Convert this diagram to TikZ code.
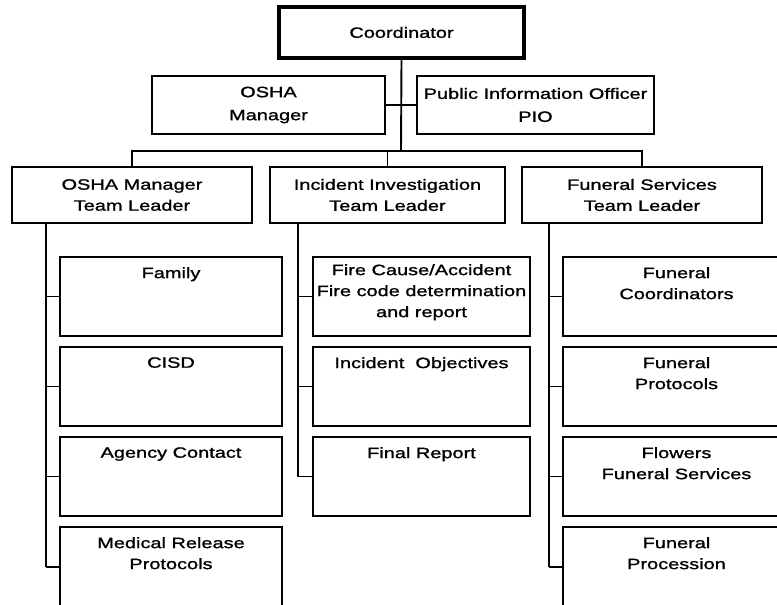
\documentclass[tikz,border=0pt]{standalone}
\usepackage{fontspec}
\setmainfont{Liberation Sans}[FakeStretch=1.33,FakeBold=1.2]
\begin{document}
\begin{tikzpicture}[x=1pt,y=-1pt,
  font=\fontsize{15}{21}\selectfont,
  box/.style={draw, line width=1.9pt, inner sep=0pt, align=center},
  lbl/.style={anchor=north, inner sep=0pt, align=center},
  con/.style={line width=1.9pt}]
\useasboundingbox (0,0) rectangle (777,605);
% top
\node[box, line width=4.5pt, minimum width=245, minimum height=51] (coord) at (401.5,32.5) {Coordinator};
\node[box, minimum width=233, minimum height=58] (oshaM) at (268.5,105) {OSHA\\[2pt]Manager};
\node[box, minimum width=237, minimum height=58] (pio) at (535.5,105) {Public Information Officer\\[2pt]PIO};
\coordinate (bar) at (401,151);
\draw[con] (coord.south) -- (bar);
\draw[con] (oshaM.east) -- (pio.west);
% team leaders
\node[box, minimum width=240, minimum height=56] (tl1) at (132,195) {OSHA Manager\\Team Leader};
\node[box, minimum width=235, minimum height=56] (tl2) at (387.5,195) {Incident Investigation\\Team Leader};
\node[box, minimum width=240, minimum height=56] (tl3) at (642,195) {Funeral Services\\Team Leader};
\draw[con] (tl1.north) |- (bar) -| (tl3.north);
\draw[con] (bar -| tl2.north) -- (tl2.north);
% column spines
\coordinate (c1) at (46,0);
\coordinate (c2) at (298,0);
\coordinate (c3) at (549,0);
% column 1
\node[box, minimum width=222, minimum height=79] (a1) at (171,296.5) {};
\node[box, minimum width=222, minimum height=79] (a2) at (171,386.5) {};
\node[box, minimum width=222, minimum height=79] (a3) at (171,476.5) {};
\node[box, minimum width=222, minimum height=80] (a4) at (171,567) {};
\node[lbl] at ([yshift=-11pt]a1.north) {Family};
\node[lbl] at ([yshift=-11pt]a2.north) {CISD};
\node[lbl] at ([yshift=-11pt]a3.north) {Agency Contact};
\node[lbl] at ([yshift=-11pt]a4.north) {Medical Release\\Protocols};
\draw[con] (tl1.south -| c1) -- (a4.west -| c1);
\foreach \n in {a1,a2,a3,a4} \draw[con] (\n.west -| c1) -- (\n.west);
% column 2
\node[box, minimum width=217, minimum height=79] (b1) at (421.5,296.5) {};
\node[box, minimum width=217, minimum height=79] (b2) at (421.5,386.5) {};
\node[box, minimum width=217, minimum height=79] (b3) at (421.5,476.5) {};
\node[lbl] at ([yshift=-8pt]b1.north) {Fire Cause/Accident\\Fire code determination\\and report};
\node[lbl] at ([yshift=-11pt]b2.north) {Incident\ \ Objectives};
\node[lbl] at ([yshift=-11pt]b3.north) {Final Report};
\draw[con] (tl2.south -| c2) -- (b3.west -| c2);
\foreach \n in {b1,b2,b3} \draw[con] (\n.west -| c2) -- (\n.west);
% column 3
\node[box, minimum width=227, minimum height=79] (d1) at (676.5,296.5) {};
\node[box, minimum width=227, minimum height=79] (d2) at (676.5,386.5) {};
\node[box, minimum width=227, minimum height=79] (d3) at (676.5,476.5) {};
\node[box, minimum width=227, minimum height=80] (d4) at (676.5,567) {};
\node[lbl] at ([yshift=-11pt]d1.north) {Funeral\\Coordinators};
\node[lbl] at ([yshift=-11pt]d2.north) {Funeral\\Protocols};
\node[lbl] at ([yshift=-11pt]d3.north) {Flowers\\Funeral Services};
\node[lbl] at ([yshift=-11pt]d4.north) {Funeral\\Procession};
\draw[con] (tl3.south -| c3) -- (d4.west -| c3);
\foreach \n in {d1,d2,d3,d4} \draw[con] (\n.west -| c3) -- (\n.west);
\end{tikzpicture}
\end{document}
